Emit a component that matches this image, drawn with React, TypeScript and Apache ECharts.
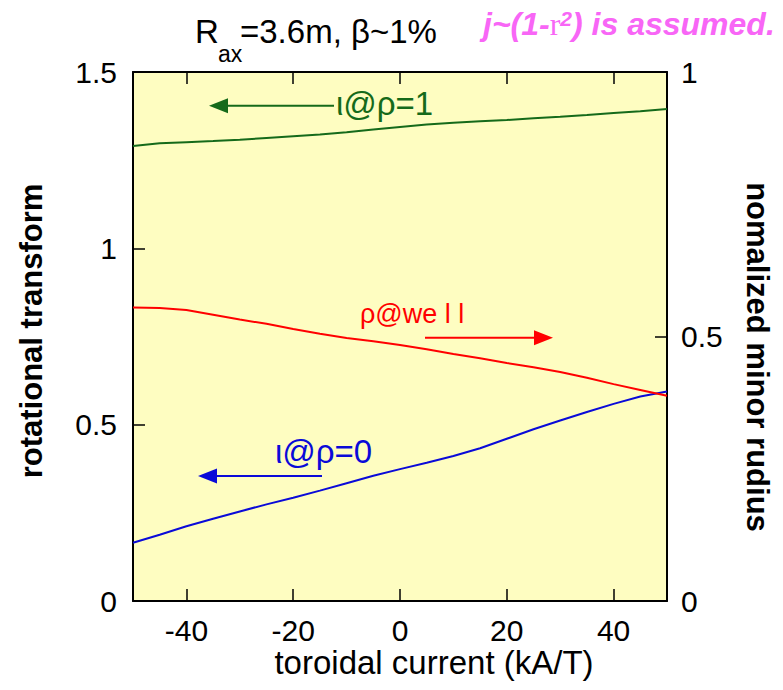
import React, { useEffect, useRef } from "react";
import * as echarts from "echarts";

const xValues = [-50, -45, -40, -35, -30, -25, -20, -15, -10, -5, 0, 5, 10, 15, 20, 25, 30, 35, 40, 45, 50];
const iotaEdge = [1.29, 1.298, 1.301, 1.304, 1.308, 1.313, 1.318, 1.323, 1.329, 1.337, 1.344, 1.351, 1.356, 1.36, 1.364, 1.369, 1.373, 1.378, 1.384, 1.389, 1.395];
const iotaAxis = [0.165, 0.188, 0.212, 0.233, 0.254, 0.274, 0.293, 0.313, 0.334, 0.355, 0.374, 0.392, 0.411, 0.433, 0.46, 0.487, 0.512, 0.536, 0.559, 0.58, 0.594];
const rhoWell = [0.555, 0.554, 0.55, 0.541, 0.532, 0.524, 0.514, 0.505, 0.497, 0.491, 0.484, 0.476, 0.467, 0.459, 0.45, 0.442, 0.433, 0.422, 0.41, 0.399, 0.388];
const xTickValues = [-40, -20, 0, 20, 40];

const SANS = "'Liberation Sans', Arial, Helvetica, sans-serif";
const GREEN = "#156a1a";
const BLUE = "#0a0ad8";
const RED = "#ff0000";
const PINK = "#f866f6";

function pairs(ys: number[]) {
  return xValues.map((x, i) => [x, ys[i]]);
}

function arrow(x1: number, x2: number, y: number, color: string) {
  const dir = x2 > x1 ? 1 : -1;
  const headLen = 19;
  const base = x2 - dir * headLen;
  return [
    { type: "line", shape: { x1, y1: y, x2: base, y2: y }, style: { stroke: color, lineWidth: 2 }, z: 10 },
    { type: "polygon", shape: { points: [[x2, y], [base, y - 7.5], [base, y + 7.5]] }, style: { fill: color }, z: 10 },
  ];
}

function label(text: string, x: number, baseline: number, size: number, color: string, extra: any = {}) {
  return {
    type: "text",
    x,
    y: baseline - 0.33 * size,
    z: 10,
    style: { text, fill: color, font: `${extra.weight || "normal"} ${size}px ${SANS}`, verticalAlign: "middle", align: extra.align || "left" },
  };
}

export default function App() {
  const ref = useRef<HTMLDivElement>(null);
  useEffect(() => {
    if (!ref.current) return;
    const chart = echarts.init(ref.current, null, { renderer: "svg" });
    const tickStyle = { color: "#000", width: 1.5 };
    const axisLine = { show: true, onZero: false, lineStyle: { color: "#000", width: 2 } };
    const labelStyle = { color: "#000", fontSize: 30, fontFamily: SANS };
    chart.setOption({
      animation: false,
      backgroundColor: "#ffffff",
      grid: { left: 133, right: 116, top: 72, bottom: 89, show: true, backgroundColor: "#fefdc1", borderWidth: 0 },
      xAxis: [
        {
          type: "value", min: -50, max: 50, position: "bottom",
          axisLine, splitLine: { show: false },
          axisTick: { inside: true, length: 12, lineStyle: tickStyle, customValues: xTickValues },
          axisLabel: { ...labelStyle, margin: 14, customValues: xTickValues },
        },
        {
          type: "value", min: -50, max: 50, position: "top",
          axisLine, splitLine: { show: false },
          axisTick: { inside: true, length: 12, lineStyle: tickStyle, customValues: xTickValues },
          axisLabel: { show: false },
        },
      ],
      yAxis: [
        {
          type: "value", min: 0, max: 1.5, interval: 0.5, position: "left",
          axisLine, splitLine: { show: false },
          axisTick: { inside: true, length: 12, lineStyle: tickStyle },
          axisLabel: { ...labelStyle, margin: 16 },
        },
        {
          type: "value", min: 0, max: 1, interval: 0.5, position: "right",
          axisLine, splitLine: { show: false },
          axisTick: { inside: true, length: 12, lineStyle: tickStyle },
          axisLabel: { ...labelStyle, margin: 14 },
        },
      ],
      series: [
        { name: "ι@ρ=1", type: "line", yAxisIndex: 0, data: pairs(iotaEdge), showSymbol: false, lineStyle: { color: GREEN, width: 2 }, itemStyle: { color: GREEN } },
        { name: "ι@ρ=0", type: "line", yAxisIndex: 0, data: pairs(iotaAxis), showSymbol: false, lineStyle: { color: BLUE, width: 2 }, itemStyle: { color: BLUE } },
        { name: "ρ@well", type: "line", yAxisIndex: 1, data: pairs(rhoWell), showSymbol: false, lineStyle: { color: RED, width: 2 }, itemStyle: { color: RED } },
      ],
      graphic: [
        label("R", 195, 42, 33, "#000"),
        label("ax", 218, 62, 23, "#000"),
        label("=3.6m, β~1%", 240, 42, 33, "#000"),
        {
          type: "text", x: 483, y: 35 - 0.33 * 32, z: 10,
          style: {
            text: "{a|j~(1-}{b|r}{c|2}{a|) is assumed.}",
            verticalAlign: "middle",
            rich: {
              a: { fill: PINK, fontSize: 32, fontWeight: "bold", fontStyle: "italic", fontFamily: SANS },
              b: { fill: PINK, fontSize: 32, fontFamily: "'Liberation Serif', 'Times New Roman', serif" },
              c: { fill: PINK, fontSize: 21, fontWeight: "bold", fontStyle: "italic", fontFamily: SANS, verticalAlign: "top" },
            },
          },
        },
        label("ι@ρ=1", 336, 114, 33, GREEN),
        ...arrow(334, 209, 105.7, GREEN),
        label("ρ@we l l", 360, 323, 27, RED),
        ...arrow(425, 553, 337.7, RED),
        label("ι@ρ=0", 275, 462, 33, BLUE),
        ...arrow(322, 198, 476, BLUE),
        {
          type: "text", x: 31, y: 331, rotation: Math.PI / 2, z: 10,
          style: { text: "rotational transform", fill: "#000", font: `bold 31px ${SANS}`, align: "center", verticalAlign: "middle" },
        },
        {
          type: "text", x: 757, y: 357, rotation: -Math.PI / 2, z: 10,
          style: { text: "nomalized minor rudius", fill: "#000", font: `bold 31px ${SANS}`, align: "center", verticalAlign: "middle" },
        },
        {
          type: "text", x: 434, y: 662, z: 10,
          style: { text: "toroidal current (kA/T)", fill: "#000", font: `normal 33px ${SANS}`, align: "center", verticalAlign: "middle" },
        },
      ],
    });
    return () => chart.dispose();
  }, []);
  return <div ref={ref} style={{ position: "fixed", left: 0, top: 0, width: 783, height: 690 }} />;
}
